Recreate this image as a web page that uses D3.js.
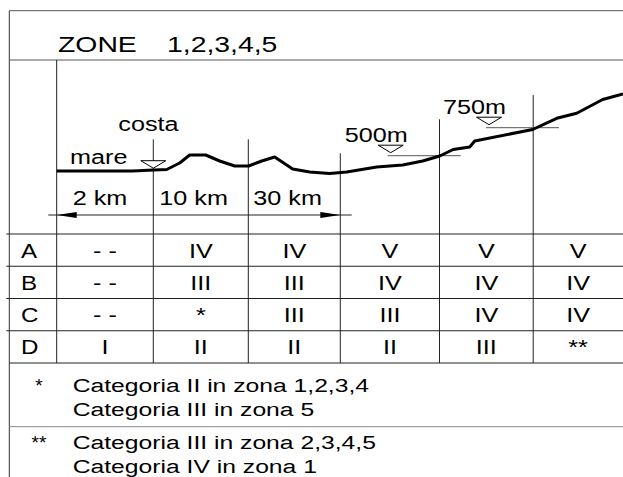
<!DOCTYPE html>
<html>
<head>
<meta charset="utf-8">
<script src="https://cdn.jsdelivr.net/npm/d3@7"></script>
<style>
  body { margin: 0; background: #fff; }
  svg { display: block; }
  text { font-family: "Liberation Sans", Arial, sans-serif; fill: #000; }
</style>
</head>
<body>
<svg id="chart" width="623" height="477"></svg>
<script>
// index.html

// Title
const titleWord = 'ZONE';
const titleZones = '1,2,3,4,5';

// Table: terrain classes (rows) x distance bands (columns)
const classes = ['A', 'B', 'C', 'D'];
const tableValues = [
  ['- -', 'IV', 'IV', 'V', 'V', 'V'],
  ['- -', 'III', 'III', 'IV', 'IV', 'IV'],
  ['- -', '*', 'III', 'III', 'IV', 'IV'],
  ['I', 'II', 'II', 'II', 'III', '**']
];

// Column boundaries along the profile (distance units from the sea edge)
const colBounds = [0, 96.6, 191.6, 283.6, 382.8, 476.5, 566.3];
// how high each column divider rises above the sea level (elevation units)
const dividerTops = [null, 31.7, 31.7, 17.7, 51.7, 76];

// Distance labels, one per band
const distLabels = ['2 km', '10 km', '30 km'];

// Terrain profile
const profileDist = [0, 76, 97, 110, 123, 133, 149, 163, 178, 192, 205, 218, 236, 253,
  273, 290, 320, 346, 366, 383, 396.5, 413, 418, 476, 500, 520, 546, 566.3];
const profileElev = [0, 0, 1, 1.5, 8, 16, 16, 10, 5, 5, 10, 14, 2, -1,
  -2.5, -1, 4, 6, 10, 15, 21.5, 24, 30, 41.5, 52.7, 57.7, 71.5, 77];

// Altitude marks
const levelLabels = ['500m', '750m'];
const levelDist = [334, 432.3];
const levelElev = [15.3, 43.3];

// Coast mark
const coastDist = 96.6;
const seaLabel = 'mare';
const coastLabel = 'costa';

// Footnotes
const noteMarks = ['*', '**'];
const noteLines = [
  ['Categoria II in zona 1,2,3,4', 'Categoria III in zona 5'],
  ['Categoria III in zona 2,3,4,5', 'Categoria IV in zona 1']
];

// Layout
const W = 623, H = 477;
const frameLeft = 9.3, frameTop = 10.7, headerY = 60;
const tableTop = 234, tableBottom = 363;
const sepY = 426.7;
const SX = 1.2; // drawing text is stretched horizontally

const svg = d3.select('#chart');

const x = d3.scaleLinear().domain([0, 566.3]).range([56.7, 623]);
const y = d3.scaleLinear().domain([0, 100]).range([171, 71]);
const row = d3.scaleBand().domain(classes).range([tableTop, tableBottom]);

function label(sel, px, py, str, size, anchor, sx) {
  return sel.append('text')
    .attr('transform', `translate(${px},${py}) scale(${sx || SX},1)`)
    .attr('text-anchor', anchor || 'start')
    .style('font-size', size + 'px')
    .text(str);
}

function hline(x1, x2, yy, color) {
  svg.append('line')
    .attr('x1', x1).attr('x2', x2).attr('y1', yy).attr('y2', yy)
    .attr('stroke', color || '#222').attr('stroke-width', 1);
}

function vline(xx, y1, y2, color) {
  svg.append('line')
    .attr('x1', xx).attr('x2', xx).attr('y1', y1).attr('y2', y2)
    .attr('stroke', color || '#222').attr('stroke-width', 1);
}

function triangle(cx, topY) {
  svg.append('path')
    .attr('d', `M${cx - 12.5},${topY} L${cx + 12.5},${topY} L${cx},${topY + 7.5} Z`)
    .attr('fill', '#fff').attr('stroke', '#000').attr('stroke-width', 1);
}

// Frame
hline(frameLeft, W, frameTop, '#555');
vline(frameLeft, frameTop, H, '#333');
hline(frameLeft, W, headerY, '#555');

// Title
label(svg, 58, 52, titleWord, 22, 'start', 1.29);
label(svg, 167, 52, titleZones, 22, 'start', 1.29);

// Column dividers
colBounds.slice(0, 6).forEach((b, i) => {
  const top = i === 0 ? headerY : y(dividerTops[i]);
  vline(x(b), top, tableBottom);
});

// Table row lines
classes.forEach(c => hline(frameLeft - 3, W, row(c)));
hline(frameLeft, W, tableBottom);

// Table text
classes.forEach((c, r) => {
  const cy = row(c) + row.bandwidth() / 2 + 7.5;
  label(svg, 21, cy, c, 21, 'start', 1.15);
  tableValues[r].forEach((v, j) => {
    const cx = (x(colBounds[j]) + x(colBounds[j + 1])) / 2;
    label(svg, cx, cy, v, 21, 'middle');
  });
});

// Distance arrow
const arrowY = 215;
hline(x(colBounds[0]) - 8.4, x(colBounds[3]) + 11.4, arrowY);
svg.append('path')
  .attr('d', `M${x(colBounds[0])},${arrowY} l20,-3 l0,6 Z`)
  .attr('fill', '#000');
svg.append('path')
  .attr('d', `M${x(colBounds[3])},${arrowY} l-20,-3 l0,6 Z`)
  .attr('fill', '#000');

const distOffsets = [16, 6, 5];
distLabels.forEach((t, i) => {
  label(svg, x(colBounds[i]) + distOffsets[i], 205, t, 21);
});

// Altitude marks
levelLabels.forEach((t, i) => {
  const cx = x(levelDist[i]);
  const ly = y(levelElev[i]);
  hline(cx - 3, cx + 70, ly, '#555');
  triangle(cx, ly - 10.5);
  label(svg, cx - 46, ly - 14, t, 21);
});

// Coast mark
triangle(x(coastDist), y(10.3));
label(svg, x(coastDist) - 35, 131, coastLabel, 21);
label(svg, 70, 164, seaLabel, 21);

// Terrain profile
const profile = profileDist.map((d, i) => [d, profileElev[i]]);
svg.append('path')
  .datum(profile)
  .attr('d', d3.line().x(d => x(d[0])).y(d => y(d[1])))
  .attr('fill', 'none')
  .attr('stroke', '#000')
  .attr('stroke-width', 3)
  .attr('stroke-linejoin', 'round');

// Footnotes
hline(frameLeft, W, sepY, '#888');
const noteBase = [391.7, 448.5];
noteMarks.forEach((m, i) => {
  label(svg, 39, noteBase[i], m, 19, 'middle', 1);
  noteLines[i].forEach((t, k) => {
    label(svg, 72.7, noteBase[i] + k * 24.5, t, 19, 'start', 1.3);
  });
});
</script>
</body>
</html>
